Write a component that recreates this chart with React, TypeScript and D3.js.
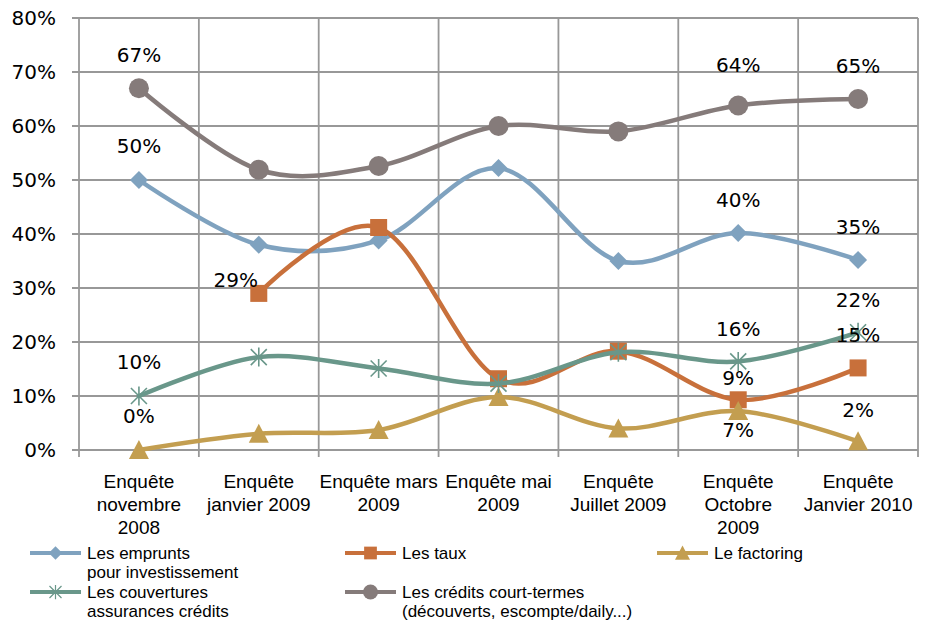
import React from "react";
import * as d3 from "d3";

const categories: string[][] = [
  ["Enquête", "novembre", "2008"],
  ["Enquête", "janvier 2009"],
  ["Enquête mars", "2009"],
  ["Enquête mai", "2009"],
  ["Enquête", "Juillet 2009"],
  ["Enquête", "Octobre", "2009"],
  ["Enquête", "Janvier 2010"],
];

const emprunts: (number | null)[] = [50, 38, 38.8, 52.2, 35, 40.2, 35.2];
const taux: (number | null)[] = [null, 29, 41.2, 13.2, 18.3, 9.3, 15.2];
const factoring: (number | null)[] = [0, 3, 3.7, 9.8, 4, 7.2, 1.6];
const couvertures: (number | null)[] = [10, 17.2, 15.1, 12.3, 18.1, 16.4, 21.8];
const credits: (number | null)[] = [67, 51.9, 52.6, 60, 59, 63.8, 65];

const yTicks = [0, 10, 20, 30, 40, 50, 60, 70, 80];

type Marker = "diamond" | "square" | "triangle" | "star" | "circle";
interface Series {
  key: string;
  name: string[];
  values: (number | null)[];
  color: string;
  marker: Marker;
}

const series: Series[] = [
  { key: "emprunts", name: ["Les emprunts", "pour investissement"], values: emprunts, color: "#7FA2BF", marker: "diamond" },
  { key: "taux", name: ["Les taux"], values: taux, color: "#C8703B", marker: "square" },
  { key: "factoring", name: ["Le factoring"], values: factoring, color: "#C39E50", marker: "triangle" },
  { key: "couvertures", name: ["Les couvertures", "assurances crédits"], values: couvertures, color: "#69978A", marker: "star" },
  { key: "credits", name: ["Les crédits court-termes", "(découverts, escompte/daily...)"], values: credits, color: "#857B7A", marker: "circle" },
];

// labeled points: series key, category index, label offset from marker
const labels: { key: string; i: number; dx: number; dy: number }[] = [
  { key: "credits", i: 0, dx: 0, dy: -33 },
  { key: "credits", i: 5, dx: 0, dy: -40 },
  { key: "credits", i: 6, dx: 0, dy: -33 },
  { key: "emprunts", i: 0, dx: 0, dy: -34 },
  { key: "emprunts", i: 5, dx: 0, dy: -33 },
  { key: "emprunts", i: 6, dx: 0, dy: -33 },
  { key: "couvertures", i: 0, dx: 0, dy: -34 },
  { key: "couvertures", i: 5, dx: 0, dy: -32 },
  { key: "couvertures", i: 6, dx: 0, dy: -32 },
  { key: "taux", i: 1, dx: -23, dy: -13 },
  { key: "taux", i: 5, dx: 0, dy: -22 },
  { key: "taux", i: 6, dx: 0, dy: -33 },
  { key: "factoring", i: 0, dx: 0, dy: -34 },
  { key: "factoring", i: 5, dx: 0, dy: 19 },
  { key: "factoring", i: 6, dx: 0, dy: -31 },
];

const W = 930;
const H = 622;
const left = 79;
const right = 918;
const top = 18;
const bottom = 450;

const numFont = "'DejaVu Sans', sans-serif";
const narrowFont = "'Liberation Sans Narrow', 'Arial Narrow', 'Liberation Sans', sans-serif";

function markerPath(m: Marker): string {
  switch (m) {
    case "diamond":
      return "M0,-9L9,0L0,9L-9,0Z";
    case "square":
      return "M-8.5,-8.5H8.5V8.5H-8.5Z";
    case "triangle":
      return "M0,-10L10,9L-10,9Z";
    case "star":
      return "M-8,-8L8,8M-8,8L8,-8M0,-9.5L0,9.5";
    case "circle":
      return d3.symbol(d3.symbolCircle, Math.PI * 10 * 10)() || "";
  }
}

function MarkerShape({ s, x, y }: { s: Series; x: number; y: number }) {
  const d = markerPath(s.marker);
  if (s.marker === "star") {
    return <path d={d} transform={`translate(${x},${y})`} fill="none" stroke={s.color} strokeWidth={1.6} />;
  }
  return <path d={d} transform={`translate(${x},${y})`} fill={s.color} stroke="none" />;
}

export default function App() {
  const x = d3.scaleBand<number>().domain(d3.range(categories.length)).range([left, right]).padding(0);
  const y = d3.scaleLinear().domain([0, 80]).range([bottom, top]);
  const cx = (i: number) => (x(i) as number) + x.bandwidth() / 2;

  const line = d3
    .line<number | null>()
    .defined((d) => d !== null)
    .x((_, i) => cx(i))
    .y((d) => y(d as number))
    .curve(d3.curveCardinal.tension(0));

  const boundaries = d3.range(categories.length + 1).map((i) => left + i * x.bandwidth());

  const legendCols = [30, 345, 657];
  const legendRows = [553, 592];
  const legendLineH = 19;

  return (
    <svg width={W} height={H} style={{ position: "absolute", left: 0, top: 0, background: "#fff" }}>
      {/* horizontal gridlines */}
      {yTicks.map((t) => (
        <line key={"h" + t} x1={left - 7} x2={right} y1={y(t)} y2={y(t)} stroke="#989898" strokeWidth={1.8} />
      ))}
      {/* vertical gridlines */}
      {boundaries.map((bx, i) => (
        <line key={"v" + i} x1={bx} x2={bx} y1={top} y2={bottom + 7} stroke="#989898" strokeWidth={1.8} />
      ))}
      {/* y tick labels */}
      {yTicks.map((t) => (
        <text key={"yt" + t} x={56} y={y(t) + 7} textAnchor="end" fontFamily={numFont} fontSize={20} fill="#000">
          {t}%
        </text>
      ))}
      {/* category labels */}
      {categories.map((lines, i) => (
        <text key={"c" + i} x={cx(i)} y={488} textAnchor="middle" fontFamily={narrowFont} fontSize={19} fill="#000">
          {lines.map((l, j) => (
            <tspan key={j} x={cx(i)} dy={j === 0 ? 0 : 23}>
              {l}
            </tspan>
          ))}
        </text>
      ))}
      {/* series */}
      {series.map((s) => (
        <g key={s.key}>
          <path d={line(s.values) || ""} fill="none" stroke={s.color} strokeWidth={4.5} strokeLinejoin="round" strokeLinecap="round" />
          {s.values.map((v, i) => (v === null ? null : <MarkerShape key={i} s={s} x={cx(i)} y={y(v)} />))}
        </g>
      ))}
      {/* data labels */}
      {labels.map((lb, k) => {
        const s = series.find((ss) => ss.key === lb.key)!;
        const v = s.values[lb.i] as number;
        return (
          <text
            key={"l" + k}
            x={cx(lb.i) + lb.dx}
            y={y(v) + lb.dy + 7}
            textAnchor="middle"
            fontFamily={numFont}
            fontSize={20}
            fill="#000"
          >
            {Math.round(v)}%
          </text>
        );
      })}
      {/* legend */}
      {series.map((s, k) => {
        const col = k < 3 ? k : k - 3;
        const row = k < 3 ? 0 : 1;
        const lx = legendCols[col];
        const ly = legendRows[row];
        return (
          <g key={"lg" + k}>
            <line x1={lx} x2={lx + 51} y1={ly} y2={ly} stroke={s.color} strokeWidth={4} />
            <g transform={`translate(${lx + 25.5},${ly}) scale(0.75)`}>
              <MarkerShape s={s} x={0} y={0} />
            </g>
            <text x={lx + 57} y={ly + 6} fontFamily={narrowFont} fontSize={17} fill="#000">
              {s.name.map((n, j) => (
                <tspan key={j} x={lx + 57} dy={j === 0 ? 0 : legendLineH}>
                  {n}
                </tspan>
              ))}
            </text>
          </g>
        );
      })}
    </svg>
  );
}
